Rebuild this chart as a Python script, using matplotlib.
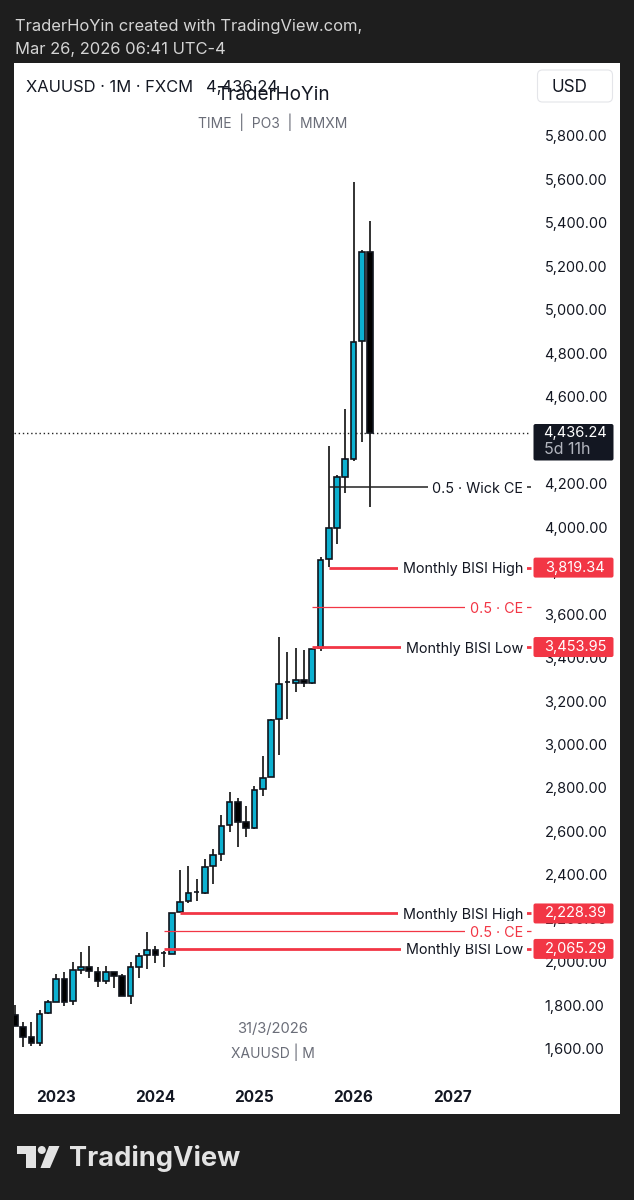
import matplotlib.pyplot as plt
from matplotlib.patches import FancyBboxPatch, Polygon, Circle
from matplotlib.transforms import ScaledTranslation

plt.rcParams['font.family'] = ['Inter', 'DejaVu Sans']

W = 634
H = 1200

# months counted from Jan 2023 = 0
months = list(range(-5, 39))
opens = [1762, 1708, 1660, 1633, 1771, 1823, 1927, 1825, 1969, 1984, 1959, 1920, 1961, 1939,
         1848, 1984, 2037, 2059, 2045, 2043, 2236, 2286, 2327, 2324, 2447, 2502, 2635, 2742,
         2650, 2622, 2801, 2858, 3123, 3293, 3288, 3303, 3290, 3450, 3859, 4003, 4237, 4319,
         4862, 5273]
closes = [1711, 1662, 1631, 1767, 1821, 1927, 1823, 1967, 1984, 1963, 1920, 1959, 1941, 1847,
          1982, 2034, 2059, 2037, 2045, 2232, 2281, 2324, 2327, 2444, 2498, 2631, 2742, 2650,
          2622, 2797, 2853, 3120, 3285, 3293, 3303, 3290, 3445, 3855, 4000, 4237, 4319, 4857,
          5273, 4436.24]
highs = [1808, 1731, 1729, 1785, 1830, 1948, 1959, 2007, 2049, 2079, 1982, 1986, 1961, 1950,
         2007, 2048, 2144, 2078, 2058, 2232, 2429, 2449, 2386, 2481, 2527, 2682, 2789, 2761,
         2725, 2815, 2954, 3124, 3500, 3433, 3449, 3441, 3445, 3868, 4379, 4245, 4549, 5595,
         5280, 5415]
lows = [1711, 1616, 1619, 1619, 1766, 1821, 1805, 1809, 1950, 1933, 1892, 1902, 1885, 1847,
        1811, 1931, 1973, 2002, 1984, 2043, 2236, 2277, 2286, 2318, 2365, 2471, 2604, 2536,
        2582, 2617, 2771, 2858, 2956, 3123, 3248, 3268, 3285, 3437, 3822, 3928, 4163, 4310,
        4399, 4098]

price_ticks = list(range(1600, 6000, 200))
year_ticks = [0, 12, 24, 36, 48]
year_labels = ['2023', '2024', '2025', '2026', '2027']

last_price = 4436.24
wick_ce = 4190
wick_ce_start = 33

# value, first month, label
thick_levels = [(3819.34, 33, 'Monthly BISI High'), (3453.95, 31, 'Monthly BISI Low'),
                (2228.39, 15, 'Monthly BISI High'), (2065.29, 13, 'Monthly BISI Low')]
thin_levels = [(3636.6, 31), (2146.8, 13)]

DARK = '#1e1e1e'
TEAL = '#0cb0d0'
RED = '#f23645'
INK = '#131722'
GRAY = '#6a6d78'

# panel edges in pixels, and the scale read from the price/year ticks
LEFT, RIGHT, TOP, BOTTOM = 14, 619.5, 62.5, 1114
PX_PER_MONTH = 8.26
X0 = 56.2
PX_PER_USD = 0.2174
Y5800 = 137


def px_x(px):
    return (px - X0) / PX_PER_MONTH


def px_y(px):
    return 5800 - (px - Y5800) / PX_PER_USD


fig = plt.figure(figsize=(W / 100, H / 100), dpi=100, facecolor=DARK)
ax = fig.add_axes([LEFT / W, 1 - BOTTOM / H, (RIGHT - LEFT) / W, (BOTTOM - TOP) / H])
ax.set_facecolor('white')
ax.set_xlim(px_x(LEFT), px_x(RIGHT))
ax.set_ylim(px_y(BOTTOM), px_y(TOP))
for s in ax.spines.values():
    s.set_visible(False)

ax.yaxis.tick_right()
ax.set_yticks(price_ticks)
ax.set_yticklabels([f'{p:,.2f}' for p in price_ticks])
ax.tick_params(axis='y', length=0, pad=-54, labelsize=10.5, labelcolor=INK)
# price labels sit a touch above their level
nudge = ScaledTranslation(0, 1.2 / 100, fig.dpi_scale_trans)
for lbl in ax.get_yticklabels():
    lbl.set_transform(lbl.get_transform() + nudge)
ax.set_xticks(year_ticks)
ax.set_xticklabels(year_labels, fontweight='bold')
ax.tick_params(axis='x', length=0, pad=-17, labelsize=11, labelcolor=INK)

# candles
ax.vlines(months, lows, highs, color='#222222', lw=1.3, zorder=2)
for m, o, c in zip(months, opens, closes):
    ax.bar(m, abs(c - o), bottom=min(o, c), width=0.68,
           color=TEAL if c >= o else 'black', edgecolor='#10141c', linewidth=1.2, zorder=3)

# levels
label_end = px_x(523)
dash_a, dash_b = px_x(525), px_x(531)
label_box = dict(facecolor='white', edgecolor='none', pad=3.2)
for val, start, label in thick_levels:
    ax.hlines(val, start, label_end - 3, color=RED, lw=2.0, zorder=4)
    ax.text(label_end, val, label, ha='right', va='center_baseline', fontsize=10.35, color=INK,
            zorder=6, bbox=label_box)
    ax.hlines(val, dash_a, dash_b, color=RED, lw=2.0, zorder=4)
for val, start in thin_levels:
    ax.hlines(val, start, label_end - 3, color=RED, lw=0.9, zorder=4)
    ax.text(label_end, val, '0.5 · CE', ha='right', va='center_baseline', fontsize=10.35, color=RED,
            zorder=6, bbox=label_box)
    ax.hlines(val, dash_a, dash_b, color=RED, lw=0.9, zorder=4)
ax.hlines(wick_ce, wick_ce_start, label_end - 3, color='#222222', lw=1.1, zorder=4)
ax.text(label_end, wick_ce, '0.5 · Wick CE', ha='right', va='center_baseline', fontsize=10.35,
        color=INK, zorder=6, bbox=label_box)
ax.hlines(wick_ce, dash_a, dash_b, color='#222222', lw=1.1, zorder=4)
ax.hlines(last_price, px_x(LEFT), px_x(530), color='#222222', lw=1.0, linestyles=(0, (1, 2)), zorder=2.5)


# everything below sits on the page, in pixels from the top left
page = fig.add_axes([0, 0, 1, 1], facecolor='none')
page.set_xlim(0, W)
page.set_ylim(H, 0)
page.axis('off')


def badge(x0, y0, x1, y1, color):
    page.add_patch(FancyBboxPatch((x0 + 2, y0 + 2), x1 - x0 - 4, y1 - y0 - 4,
                                  boxstyle='round,pad=2,rounding_size=2', fc=color, ec='none'))


for val, start, label in thick_levels:
    y = Y5800 + (5800 - val) * PX_PER_USD
    badge(533.5, y - 10, 613.5, y + 10, RED)
    page.text(575.5, y, f'{val:,.2f}', ha='center', va='center', fontsize=10.5, color='white')

badge(533.5, 424, 613.5, 460.5, INK)
page.text(575.5, 433.5, f'{last_price:,.2f}', ha='center', va='center', fontsize=10.5, color='white')
page.text(544, 450, '5d 11h', ha='left', va='center', fontsize=11.5, color='#b2b5be')

page.add_patch(FancyBboxPatch((539.5, 72), 71, 28, boxstyle='round,pad=2,rounding_size=5',
                              fc='white', ec='#e4e5e9', lw=0.8))
page.text(569.5, 87, 'USD', ha='center', va='center', fontsize=12.3, color=INK)

page.text(26, 87.5, 'XAUUSD · 1M · FXCM', ha='left', va='center', fontsize=11.9, color=INK)
page.text(206, 87.5, '4,436.24', ha='left', va='center', fontsize=11.9, color=INK)
page.text(273, 94.5, 'TraderHoYin', ha='center', va='center', fontsize=13.6, color=INK)
page.text(273, 122, 'TIME  |  PO3  |  MMXM', ha='center', va='center', fontsize=10, color=GRAY)
page.text(273, 1029, '31/3/2026', ha='center', va='center', fontsize=10.6, color=GRAY)
page.text(273, 1052, 'XAUUSD | M', ha='center', va='center', fontsize=10, color=GRAY)

page.text(15, 26, 'TraderHoYin created with TradingView.com,', ha='left', va='center',
          fontsize=11.9, color='#d4d4d4')
page.text(15, 49.5, 'Mar 26, 2026 06:41 UTC-4', ha='left', va='center', fontsize=11.9, color='#d4d4d4')

# TradingView logo
LOGO = '#e3e3e3'
page.add_patch(Polygon([(17, 1146), (36, 1146), (36, 1168), (25.5, 1168), (25.5, 1154), (17, 1154)],
                       fc=LOGO, ec='none'))
page.add_patch(Circle((41.8, 1150), 4, fc=LOGO, ec='none'))
page.add_patch(Polygon([(49, 1146), (59.5, 1146), (50, 1168), (40.5, 1168)], fc=LOGO, ec='none'))
page.text(69, 1158, 'TradingView', ha='left', va='center', fontsize=19.6, fontweight='bold', color=LOGO)

fig.savefig('out.png', dpi=100, facecolor=DARK)
